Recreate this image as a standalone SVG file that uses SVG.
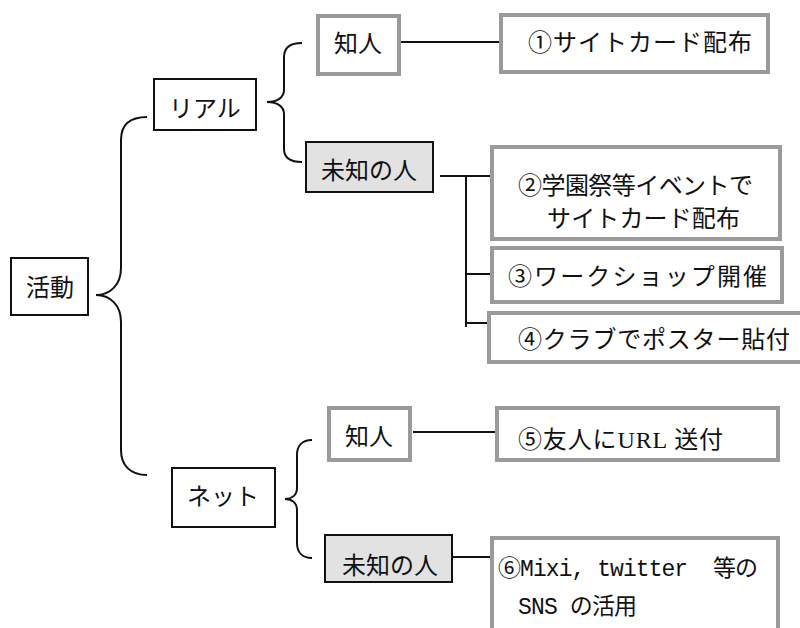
<svg xmlns="http://www.w3.org/2000/svg" width="800" height="628" viewBox="0 0 800 628">
<style>
.blk{fill:#fff;stroke:#111;stroke-width:2}
.gry{fill:#fff;stroke:#9a9a9a;stroke-width:4}
.unk{fill:#e2e2e2;stroke:#111;stroke-width:2}
.t{font-family:"Liberation Serif","Noto Sans CJK JP",serif;font-size:24px;fill:#111}
.m{font-family:"Liberation Mono","Noto Sans CJK JP",monospace;font-size:23px;fill:#111;white-space:pre}
.c{text-anchor:middle}
#connectors path,#connectors line{fill:none;stroke:#111;stroke-width:2}
</style>
<rect width="800" height="628" fill="#fff"/>
<g id="connectors">
<path d="M147,117 C130,117 121,125 121,140 L121,268 C121,285 110,295 96,295 C110,295 121,305 121,322 L121,450 C121,465 130,475 147,475"/>
<path d="M302,43 C290,43 284,48 284,57 L284,90 C284,97 278,102 267,102 C278,102 284,107 284,114 L284,149 C284,158 290,162 302,162"/>
<path d="M312,440 C302,440 297,446 297,455 L297,488 C297,495 292,499 285,499 C292,499 297,503 297,510 L297,543 C297,552 302,558 312,558"/>
<line x1="400" y1="42" x2="500" y2="42"/>
<line x1="440" y1="176" x2="490" y2="176"/>
<line x1="466" y1="176" x2="466" y2="327"/>
<line x1="466" y1="274" x2="490" y2="274"/>
<line x1="466" y1="323" x2="490" y2="323"/>
<line x1="413" y1="432" x2="497" y2="432"/>
<line x1="452" y1="557" x2="492" y2="557"/>
</g>
<g id="katsudo"><rect class="blk" x="11" y="258" width="77" height="57"/><text class="t c" x="50" y="296">活動</text></g>
<g id="real"><rect class="blk" x="154" y="79" width="102" height="51"/><text class="t c" x="205" y="117">リアル</text></g>
<g id="net"><rect class="blk" x="172" y="468" width="103" height="59"/><text class="t c" x="223" y="505">ネット</text></g>
<g id="real-known"><rect class="gry" x="318" y="16" width="81" height="58"/><text class="t c" x="358" y="52">知人</text></g>
<g id="real-unknown"><rect class="unk" x="306" y="142" width="127" height="50"/><text class="t c" x="369" y="179">未知の人</text></g>
<g id="net-known"><rect class="gry" x="329" y="408" width="81" height="52"/><text class="t c" x="369" y="445">知人</text></g>
<g id="net-unknown"><rect class="unk" x="325" y="535" width="127" height="47"/><text class="t c" x="390" y="574">未知の人</text></g>
<g id="item1"><rect class="gry" x="501" y="15" width="267" height="57"/><text class="t" x="528" y="51" textLength="224">①サイトカード配布</text></g>
<g id="item2"><rect class="gry" x="492" y="147" width="288" height="92"/><text class="t" x="518" y="194" textLength="235">②学園祭等イベントで</text><text class="t" x="547" y="227" textLength="193">サイトカード配布</text></g>
<g id="item3"><rect class="gry" x="492" y="248" width="290" height="54"/><text class="t" x="508" y="285" textLength="259">③ワークショップ開催</text></g>
<g id="item4"><rect class="gry" x="489" y="313" width="330" height="49"/><text class="t" x="518" y="348" textLength="272">④クラブでポスター貼付</text></g>
<g id="item5"><rect class="gry" x="497" y="408" width="281" height="52"/><text class="t" x="518" y="448" textLength="205">⑤友人にURL 送付</text></g>
<g id="item6"><rect class="gry" x="492" y="538" width="286" height="110"/><text class="m" x="498" y="576" textLength="260">⑥Mixi, twitter  等の</text><text class="m" x="518" y="614" textLength="119">SNS の活用</text></g>
</svg>
